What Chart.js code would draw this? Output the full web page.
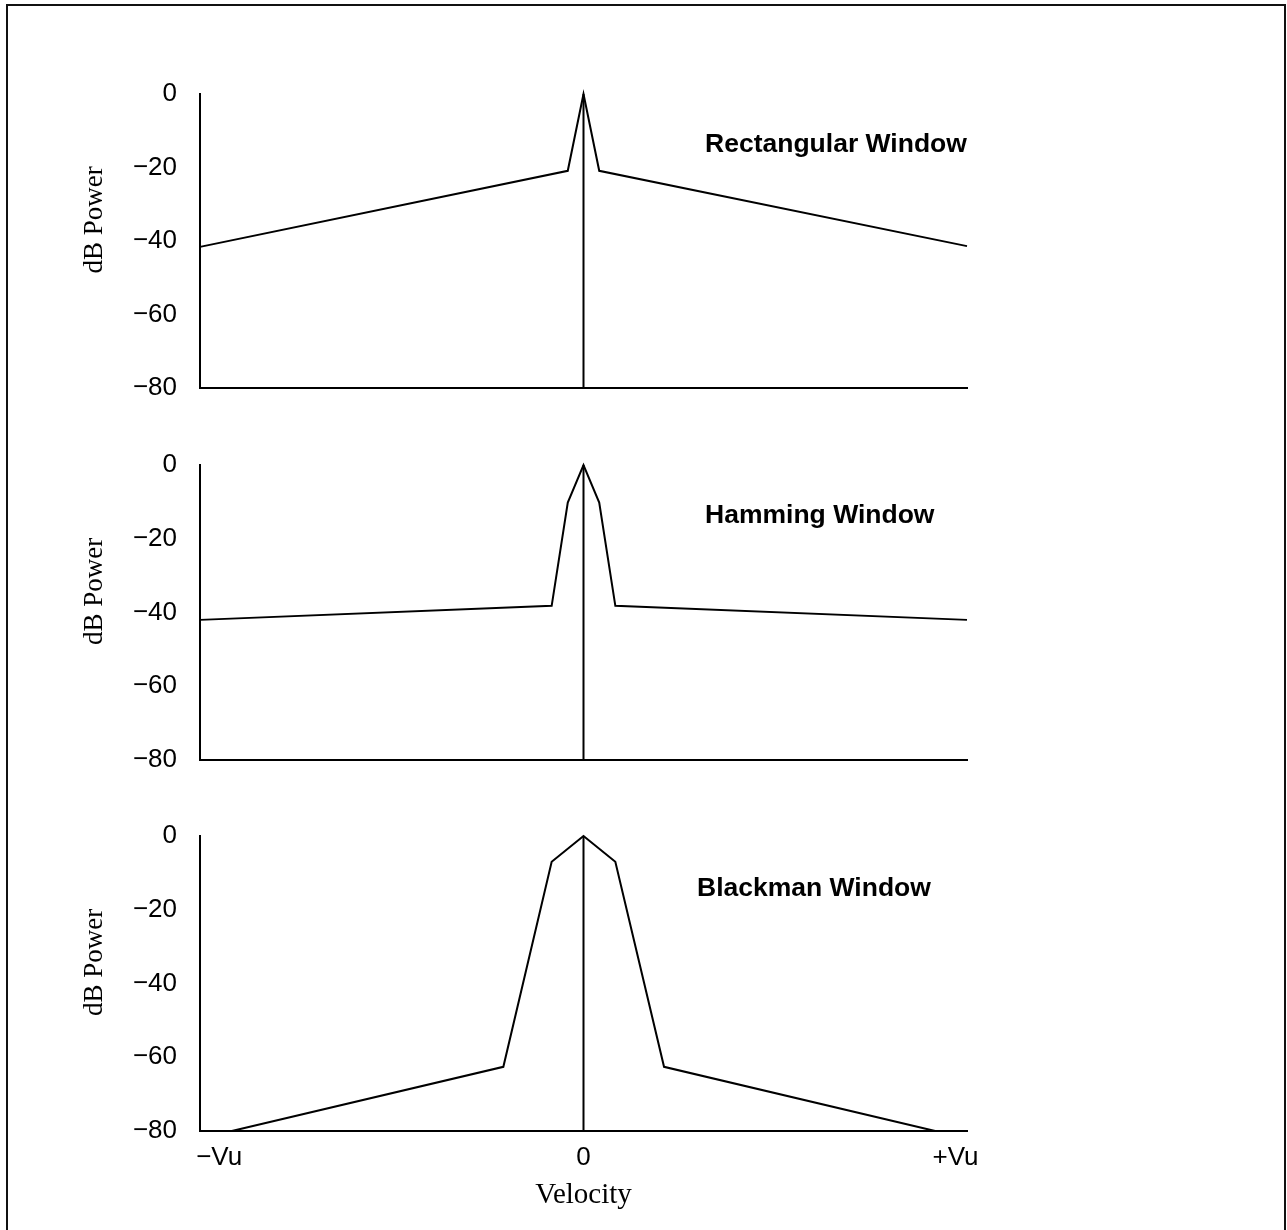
<!DOCTYPE html>
<html>
<head>
<meta charset="utf-8">
<script src="https://cdn.jsdelivr.net/npm/chart.js@4.4.1/dist/chart.umd.min.js"></script>
<style>
  html, body { margin: 0; padding: 0; background: #fff; overflow: hidden; }
  #page { position: relative; width: 1287px; height: 1230px; }
  #frame { position: absolute; left: 6px; top: 4px; width: 1280px; height: 1300px; border: 2px solid #111; box-sizing: border-box; }
  canvas { position: absolute; left: 0; }
</style>
</head>
<body>
<div id="page">
  <div id="frame"></div>
  <canvas id="rect" style="top:55px" width="1287" height="373"></canvas>
  <canvas id="hamm" style="top:426px" width="1287" height="374"></canvas>
  <canvas id="black" style="top:797px" width="1287" height="416"></canvas>
</div>
<script>
// velocity runs from -Vu (-1) to +Vu (+1), power in dB
const rectVel  = [-1, -0.041, 0, 0.041, 1];
const rectPow  = [-41.6, -20.9, 0, -20.9, -41.4];
const hammVel  = [-1, -0.083, -0.041, 0, 0.041, 0.083, 1];
const hammPow  = [-42, -38.2, -10.2, 0, -10.2, -38.2, -42];
const blackVel = [-1, -0.917, -0.209, -0.083, 0, 0.083, 0.21, 0.917, 1];
const blackPow = [-80, -80, -62.6, -7, 0, -7, -62.6, -80, -80];
const centerVel = [0, 0];
const centerPow = [0, -80];

const yTickStep = 20;
const xTickPos = [-0.95, 0, 0.97];
const xTickLabels = ['\u2212Vu', '0', '+Vu'];
const panelTitles = ['Rectangular Window', 'Hamming Window', 'Blackman Window'];

Chart.defaults.font.family = '"Liberation Sans", Arial, sans-serif';
Chart.defaults.color = '#000';

const toPoints = (xs, ys) => xs.map((x, i) => ({ x, y: ys[i] }));

// panel title + rotated "dB Power" label
const panelText = {
  id: 'panelText',
  afterDraw(chart, args, opts) {
    const { ctx, chartArea, scales: { x, y } } = chart;
    ctx.save();
    ctx.fillStyle = '#000';
    ctx.font = 'bold 26.5px "Liberation Sans"';
    ctx.textAlign = 'left';
    ctx.textBaseline = 'alphabetic';
    ctx.fillText(opts.title, x.getPixelForValue(opts.titleX), y.getPixelForValue(opts.titleY));

    ctx.font = '27px "Liberation Serif"';
    ctx.translate(95, (chartArea.top + chartArea.bottom) / 2 - 21);
    ctx.rotate(-Math.PI / 2);
    ctx.textAlign = 'center';
    ctx.textBaseline = 'middle';
    ctx.fillText('dB Power', 0, 0);
    ctx.restore();
  }
};

function makePanel(id, vel, pow, title, titleX, titleY, showX) {
  const line = { showLine: true, borderColor: '#000', borderWidth: 2, pointRadius: 0, tension: 0, clip: false };
  return new Chart(document.getElementById(id), {
    type: 'scatter',
    data: {
      datasets: [
        { ...line, data: toPoints(vel, pow) },
        { ...line, data: toPoints(centerVel, centerPow) }
      ]
    },
    plugins: [panelText],
    options: {
      responsive: false,
      animation: false,
      layout: { padding: { top: 39, right: 320, left: 0, bottom: 0 } },
      plugins: {
        legend: { display: false },
        tooltip: { enabled: false },
        panelText: { title, titleX, titleY }
      },
      scales: {
        x: {
          type: 'linear', min: -1, max: 1,
          grid: { display: false, drawTicks: false },
          border: { display: true, color: '#000', width: 2 },
          afterBuildTicks: s => { s.ticks = xTickPos.map(v => ({ value: v })); },
          afterFit: s => { s.height = showX ? 82 : 40; },
          ticks: {
            display: showX, padding: 11, maxRotation: 0, autoSkip: false,
            font: { size: 26 },
            callback: (v, i) => xTickLabels[i]
          },
          title: {
            display: showX, text: 'Velocity', color: '#000',
            font: { family: '"Liberation Serif"', size: 29 },
            padding: { top: 0, bottom: 0 }
          }
        },
        y: {
          min: -80, max: 0,
          grid: { display: false, drawTicks: false },
          border: { display: true, color: '#000', width: 2 },
          afterFit: s => { s.width = 200; },
          ticks: {
            stepSize: yTickStep, padding: 23,
            font: { size: 26 },
            callback: v => v === 0 ? '0' : '\u2212' + Math.abs(v)
          }
        }
      }
    }
  });
}

makePanel('rect', rectVel, rectPow, panelTitles[0], 0.317, -15.8, false);
makePanel('hamm', hammVel, hammPow, panelTitles[1], 0.317, -15.7, false);
makePanel('black', blackVel, blackPow, panelTitles[2], 0.296, -16.3, true);
</script>
</body>
</html>
